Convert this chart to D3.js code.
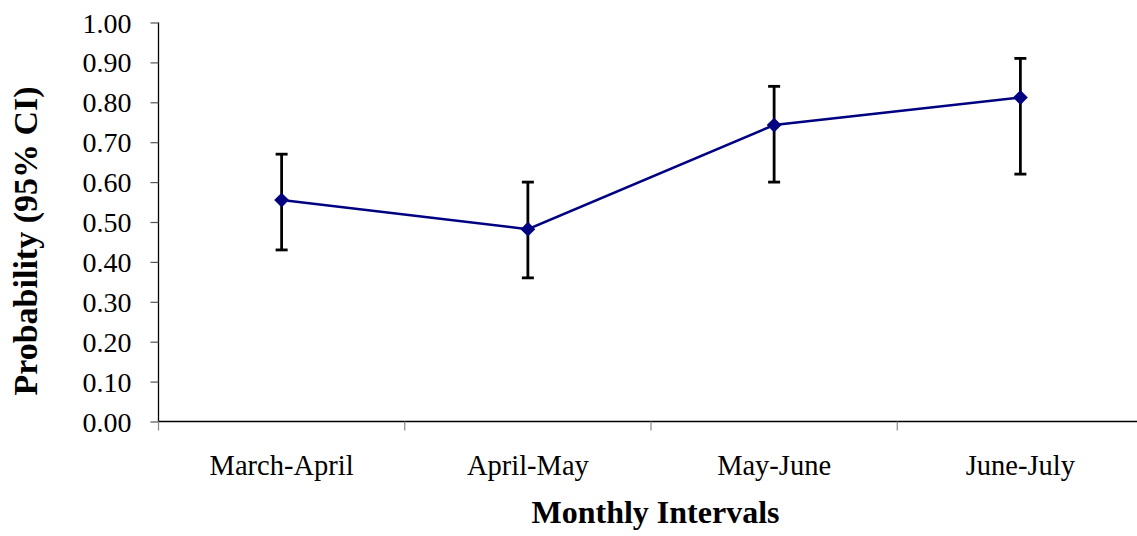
<!DOCTYPE html>
<html>
<head>
<meta charset="utf-8">
<script src="https://cdn.jsdelivr.net/npm/d3@7"></script>
<style>
  html, body { margin: 0; padding: 0; background: #fff; }
  svg { display: block; }
  text { font-family: "Liberation Serif", "Times New Roman", serif; fill: #000; }
</style>
</head>
<body>
<svg id="chart" width="1137" height="536"></svg>
<script>
// Monthly interval estimates with 95% confidence limits
const intervals = ["March-April", "April-May", "May-June", "June-July"];
const probability = [0.555, 0.482, 0.743, 0.812];
const lowerCI = [0.43, 0.36, 0.60, 0.62];
const upperCI = [0.67, 0.60, 0.84, 0.91];
const yTicks = [0, 0.1, 0.2, 0.3, 0.4, 0.5, 0.6, 0.7, 0.8, 0.9, 1.0];

const svg = d3.select("#chart");
const plotLeft = 158.5, plotRight = 1143.5, plotTop = 22.5, plotBottom = 421.5;

const x = d3.scaleBand().domain(intervals).range([plotLeft, plotRight]).paddingInner(0).paddingOuter(0);
const y = d3.scaleLinear().domain([0, 1]).range([plotBottom, plotTop]);
const cx = d => x(d) + x.bandwidth() / 2;

// Y axis
const yAxis = svg.append("g")
  .attr("transform", `translate(${plotLeft},0)`)
  .call(d3.axisLeft(y).tickValues(yTicks).tickFormat(d3.format(".2f")).tickSize(8).tickPadding(19));
yAxis.select(".domain").attr("stroke", "#000").attr("stroke-width", 1.3).attr("d", `M0,${plotTop}V${plotBottom}`);
yAxis.selectAll(".tick line").attr("stroke", "#555").attr("stroke-width", 1.2);
yAxis.selectAll(".tick text").style("font-size", "28px").attr("dy", "0.34em");

// X axis with boundary ticks between categories
const xAxis = svg.append("g").attr("transform", `translate(0,${plotBottom})`);
xAxis.append("line").attr("x1", plotLeft).attr("x2", plotRight).attr("stroke", "#000").attr("stroke-width", 1.3);
const bounds = intervals.map(d => x(d)).concat([plotRight]);
xAxis.selectAll("line.bt").data(bounds).join("line").attr("class", "bt")
  .attr("x1", d => d).attr("x2", d => d).attr("y1", 0).attr("y2", 9)
  .attr("stroke", "#888").attr("stroke-width", 1.2);
xAxis.selectAll("text").data(intervals).join("text")
  .attr("x", d => cx(d)).attr("y", 53).attr("text-anchor", "middle")
  .style("font-size", "28.5px").text(d => d);

// Error bars
const eb = svg.append("g").attr("stroke", "#000").attr("stroke-width", 2.8);
intervals.forEach((c, i) => {
  const px = cx(c);
  eb.append("line").attr("x1", px).attr("x2", px).attr("y1", y(upperCI[i])).attr("y2", y(lowerCI[i]));
  eb.append("line").attr("x1", px - 6).attr("x2", px + 6).attr("y1", y(upperCI[i])).attr("y2", y(upperCI[i]));
  eb.append("line").attr("x1", px - 6).attr("x2", px + 6).attr("y1", y(lowerCI[i])).attr("y2", y(lowerCI[i]));
});

// Series line
const line = d3.line().x((d, i) => cx(intervals[i])).y(d => y(d));
svg.append("path").datum(probability).attr("d", line)
  .attr("fill", "none").attr("stroke", "#000080").attr("stroke-width", 2.4);

// Diamond markers
const diamond = d3.symbol().type(d3.symbolSquare).size(110);
svg.selectAll("path.mk").data(probability).join("path").attr("class", "mk")
  .attr("d", diamond)
  .attr("transform", (d, i) => `translate(${cx(intervals[i])},${y(d)}) rotate(45)`)
  .attr("fill", "#000080");

// Axis titles
svg.append("text").attr("x", 655.5).attr("y", 523).attr("text-anchor", "middle")
  .style("font-size", "32px").style("font-weight", "bold").text("Monthly Intervals");
svg.append("text").attr("transform", `translate(37,241) rotate(-90)`).attr("text-anchor", "middle")
  .style("font-size", "34px").style("font-weight", "bold").text("Probability (95% CI)");
</script>
</body>
</html>
